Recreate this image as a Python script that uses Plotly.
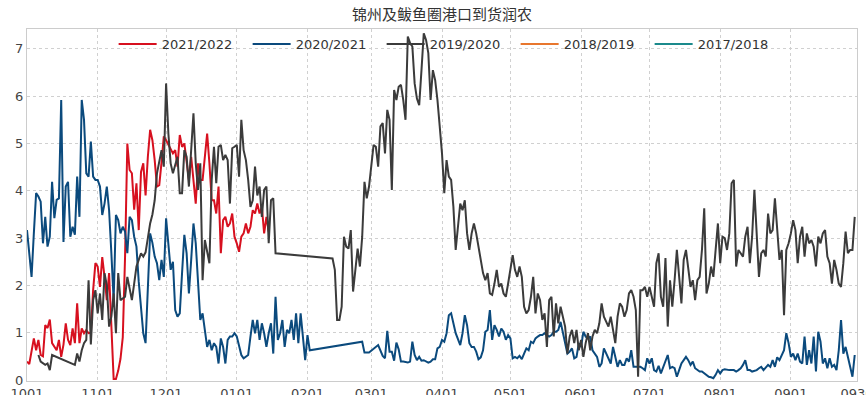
import pandas as pd
import plotly.graph_objects as go

# x positions are days counted from 1 October of each season
season_labels = ["2021/2022", "2020/2021", "2019/2020", "2018/2019", "2017/2018"]
season_colors = ["#d7101f", "#0b4a7d", "#3b3b3b", "#e8772e", "#1b8a8c"]

days_2122 = [0, 1, 3, 4, 5, 6, 7, 8, 9, 10, 11, 12, 13, 14, 15, 16, 17, 18, 19, 20,
             21, 22, 23, 24, 25, 26, 27, 28, 29, 30, 31, 32, 33, 34, 35, 36, 37, 38, 39, 40,
             41, 42, 43, 44, 45, 46, 47, 48, 49, 50, 51, 52, 53, 54, 55, 56, 57, 58, 59, 60,
             61, 63, 64, 65, 66, 67, 68, 69, 70, 71, 72, 73, 74, 75, 76, 77, 78, 79, 80, 81,
             82, 83, 84, 85, 86, 87, 88, 89, 90, 91, 92, 93, 94, 95, 96, 97, 98, 99, 100, 101,
             102, 103, 104, 105, 106]
vals_2122 = [0.39, 0.34, 0.88, 0.63, 0.85, 0.53, 0.50, 1.16, 1.10, 1.28, 0.78, 0.70, 0.63, 0.85, 0.49, 0.75, 1.20, 0.85, 0.74, 1.09,
             0.78, 1.62, 0.78, 1.09, 0.99, 1.06, 0.99, 1.00, 1.90, 2.47, 2.40, 1.97, 2.60, 2.18, 1.69, 2.26, 0.99, 0.02, 0.02, 0.20,
             0.45, 0.90, 2.60, 5.00, 4.44, 4.37, 3.60, 4.16, 3.17, 4.40, 4.58, 3.90, 4.72, 5.29, 5.07, 4.65, 4.09, 4.12, 4.60, 5.15,
             5.07, 4.86, 4.79, 4.86, 4.51, 5.18, 4.93, 5.00, 4.58, 4.23, 4.72, 4.23, 3.73, 4.58, 4.23, 4.23, 4.72, 5.21, 4.58, 3.80,
             3.80, 3.52, 4.09, 2.68, 3.38, 3.45, 3.24, 3.31, 3.52, 3.03, 2.89, 2.71, 3.03, 3.10, 3.31, 3.10, 3.24, 3.59, 3.52, 3.73,
             3.52, 3.66, 3.10, 3.45, 3.14]

days_2021 = [0, 2, 3, 4, 5, 6, 7, 8, 9, 10, 11, 12, 13, 14, 15, 16, 17, 18, 19, 20,
             21, 22, 23, 24, 25, 26, 27, 28, 29, 30, 31, 32, 33, 34, 35, 36, 37, 38, 39, 40,
             41, 42, 43, 44, 45, 46, 47, 48, 49, 50, 51, 52, 53, 54, 55, 56, 57, 58, 59, 60,
             61, 62, 63, 64, 65, 66, 67, 68, 69, 70, 71, 72, 73, 74, 75, 76, 77, 78, 79, 80,
             81, 82, 83, 84, 85, 86, 87, 88, 89, 90, 91, 92, 93, 94, 95, 96, 97, 98, 99, 100,
             101, 102, 103, 104, 105, 106, 107, 108, 109, 110, 111, 112, 113, 114, 115, 116, 117, 118, 119, 120,
             121, 122, 123, 124, 147, 148, 150, 152, 154, 156, 157, 158, 159, 160, 161, 162, 163, 164, 165, 167,
             168, 169, 170, 171, 172, 173, 174, 176, 177, 178, 179, 180, 181, 182, 183, 184, 185, 186, 187, 188,
             190, 191, 192, 193, 194, 195, 196, 197, 198, 199, 200, 201, 202, 203, 204, 205, 206, 207, 208, 209,
             210, 211, 212, 213, 214, 215, 216, 217, 218, 219, 220, 221, 222, 223, 224, 225, 226, 227, 228, 229,
             230, 231, 232, 233, 234, 235, 236, 237, 238, 239, 240, 241, 242, 243, 244, 245, 246, 247, 248, 249,
             250, 251, 252, 253, 254, 255, 256, 257, 258, 259, 260, 261, 262, 263, 264, 265, 266, 267, 268, 269,
             270, 271, 272, 273, 274, 275, 276, 277, 278, 279, 281, 282, 283, 284, 285, 286, 287, 289, 290, 291,
             292, 293, 295, 296, 297, 298, 299, 300, 301, 302, 303, 304, 305, 306, 308, 310, 311, 312, 313, 314,
             315, 316, 317, 318, 320, 321, 322, 323, 325, 326, 327, 328, 329, 330, 331, 332, 333, 334, 335, 336,
             337, 338, 339, 340, 341, 342, 343, 344, 345, 346, 347, 348, 349, 350, 351, 352, 353, 354, 355, 356,
             357, 358, 359, 360, 361, 362, 363]
vals_2021 = [3.17, 2.18, 3.10, 3.95, 3.88, 3.77, 2.89, 3.45, 2.82, 3.03, 4.19, 3.42, 3.81, 3.84, 5.92, 2.92, 4.09, 4.19, 3.03, 3.24,
             3.07, 4.30, 3.45, 5.92, 5.50, 4.37, 4.30, 5.04, 4.30, 4.23, 4.23, 4.09, 3.49, 3.73, 4.09, 3.59, 2.68, 1.69, 3.49, 3.38,
             3.10, 3.24, 3.14, 2.68, 3.45, 3.38, 3.03, 2.82, 2.08, 1.48, 0.99, 0.78, 1.90, 3.10, 2.90, 2.61, 2.47, 2.11, 2.54, 2.18,
             3.42, 2.82, 2.33, 2.50, 1.48, 1.34, 1.41, 2.26, 3.07, 2.68, 1.83, 2.54, 3.31, 2.89, 2.11, 1.27, 1.41, 0.99, 0.70, 0.85,
             0.63, 0.78, 0.70, 0.35, 0.88, 0.70, 0.35, 0.85, 0.92, 0.92, 0.99, 0.92, 0.70, 0.53, 0.46, 0.49, 0.53, 0.92, 1.27, 0.99,
             1.27, 0.85, 1.20, 0.99, 0.70, 0.99, 1.20, 0.56, 1.76, 0.85, 0.99, 1.27, 0.70, 1.06, 0.99, 1.27, 0.85, 1.41, 0.78, 1.41,
             0.85, 0.42, 0.95, 0.63, 0.81, 0.58, 0.58, 0.67, 0.74, 0.51, 0.46, 1.04, 0.60, 0.60, 0.41, 0.79, 0.65, 0.39, 0.39, 0.37,
             0.39, 0.81, 0.53, 0.42, 0.49, 0.41, 0.42, 0.37, 0.39, 0.44, 0.44, 0.67, 0.70, 0.85, 0.81, 0.99, 1.37, 1.41, 1.23, 0.99,
             0.74, 0.99, 1.37, 1.16, 0.78, 0.70, 0.70, 0.60, 0.44, 0.48, 0.63, 1.02, 1.06, 1.48, 0.85, 1.16, 1.06, 0.92, 1.09, 1.02,
             0.85, 0.95, 0.88, 0.46, 0.49, 0.46, 0.51, 0.44, 0.56, 0.67, 0.63, 0.81, 0.78, 0.88, 0.92, 0.95, 0.95, 0.99, 0.95, 0.92,
             0.95, 1.02, 1.02, 1.06, 1.23, 1.02, 0.78, 0.56, 0.60, 0.67, 0.46, 0.49, 0.78, 0.70, 1.02, 0.92, 0.88, 0.92, 0.63, 0.56,
             0.49, 0.28, 0.35, 0.67, 0.56, 0.46, 0.35, 0.70, 0.49, 0.28, 0.42, 0.32, 0.32, 0.46, 0.39, 0.63, 0.28, 0.28, 0.28, 0.28,
             0.25, 0.21, 0.46, 0.35, 0.46, 0.21, 0.18, 0.30, 0.14, 0.28, 0.53, 0.25, 0.28, 0.25, 0.07, 0.21, 0.35, 0.49, 0.42, 0.32,
             0.39, 0.25, 0.18, 0.18, 0.14, 0.11, 0.07, 0.06, 0.04, 0.11, 0.21, 0.14, 0.21, 0.23, 0.21, 0.21, 0.18, 0.21, 0.25, 0.32,
             0.42, 0.21, 0.21, 0.18, 0.21, 0.25, 0.28, 0.21, 0.32, 0.28, 0.42, 0.28, 0.48, 0.42, 0.53, 0.63, 0.99, 0.78, 0.49, 0.56,
             0.42, 0.56, 0.39, 0.35, 0.92, 0.32, 0.63, 0.35, 0.92, 0.18, 1.02, 0.81, 0.35, 0.46, 0.25, 0.46, 0.28, 0.32, 0.21, 0.63,
             1.27, 0.56, 0.70, 0.46, 0.28, 0.07, 0.53]

days_1920 = [5, 6, 8, 9, 10, 11, 21, 22, 23, 24, 25, 26, 27, 28, 29, 30, 31, 32, 33, 34,
             35, 36, 37, 38, 39, 40, 41, 43, 44, 45, 46, 47, 48, 49, 50, 51, 52, 53, 54, 55,
             56, 57, 58, 59, 60, 61, 62, 63, 64, 65, 66, 67, 68, 69, 70, 71, 72, 73, 74, 75,
             76, 77, 78, 79, 80, 81, 82, 83, 84, 85, 86, 87, 88, 89, 90, 91, 92, 93, 94, 95,
             96, 97, 98, 99, 100, 101, 102, 103, 104, 105, 106, 107, 108, 109, 134, 135, 136, 137, 138, 139,
             140, 141, 142, 143, 144, 145, 146, 147, 148, 149, 150, 151, 152, 153, 154, 155, 156, 157, 158, 159,
             160, 161, 162, 163, 164, 165, 166, 167, 168, 169, 170, 171, 172, 173, 174, 175, 176, 177, 178, 179,
             180, 181, 182, 183, 184, 185, 186, 187, 188, 189, 190, 191, 192, 193, 194, 195, 196, 197, 198, 199,
             200, 201, 202, 203, 204, 205, 206, 207, 208, 209, 210, 211, 213, 214, 215, 216, 217, 218, 219, 220,
             221, 222, 223, 224, 225, 226, 227, 228, 229, 230, 231, 232, 233, 234, 235, 236, 237, 238, 239, 240,
             241, 242, 243, 244, 245, 246, 247, 248, 249, 250, 251, 252, 253, 255, 256, 257, 258, 259, 260, 261,
             262, 263, 264, 265, 266, 267, 268, 269, 270, 271, 272, 273, 275, 276, 277, 278, 279, 280, 281, 282,
             283, 284, 285, 287, 288, 289, 290, 291, 292, 293, 294, 295, 296, 297, 298, 299, 300, 301, 302, 303,
             304, 305, 306, 307, 308, 309, 310, 311, 312, 313, 314, 315, 316, 317, 318, 319, 320, 321, 322, 323,
             324, 325, 326, 327, 328, 329, 330, 331, 332, 333, 334, 335, 336, 337, 338, 339, 340, 341, 342, 343,
             344, 345, 346, 347, 348, 349, 350, 351, 352, 353, 354, 355, 356, 357, 358, 359, 360, 361, 362, 363]
vals_1920 = [0.53, 0.39, 0.32, 0.35, 0.21, 0.53, 0.32, 0.56, 0.39, 0.63, 0.78, 0.85, 2.11, 0.75, 1.69, 1.90, 1.41, 1.83, 1.27, 2.26,
             2.00, 1.13, 1.34, 1.83, 0.99, 2.26, 1.69, 1.76, 2.18, 1.90, 1.69, 2.04, 2.40, 2.54, 2.68, 2.61, 2.70, 3.00, 3.31, 3.50,
             3.80, 4.37, 4.65, 4.86, 4.51, 6.27, 5.21, 4.58, 4.37, 4.58, 4.72, 3.95, 3.95, 4.86, 4.72, 4.09, 4.79, 5.64, 4.58, 4.02,
             4.58, 2.11, 2.96, 2.68, 2.47, 4.23, 4.93, 4.16, 4.93, 4.97, 4.65, 4.76, 4.65, 3.73, 4.90, 4.93, 4.97, 4.30, 5.50, 4.86,
             4.65, 4.23, 3.66, 3.80, 4.51, 3.90, 4.09, 3.45, 4.02, 4.09, 2.89, 3.80, 3.84, 2.68, 2.57, 2.33, 1.27, 1.27, 1.55, 3.03,
             2.82, 2.78, 3.17, 1.87, 2.40, 2.78, 2.40, 3.03, 4.19, 3.84, 4.09, 4.51, 4.97, 4.93, 4.51, 5.36, 5.43, 4.79, 5.71, 5.50,
             4.02, 6.13, 5.92, 6.20, 6.24, 5.92, 5.50, 7.26, 7.12, 7.05, 6.27, 5.95, 5.81, 6.55, 7.33, 7.19, 6.91, 5.92, 6.55, 6.34,
             5.92, 5.36, 4.79, 3.95, 4.65, 4.30, 4.23, 3.66, 2.75, 3.24, 3.73, 3.59, 3.80, 3.10, 2.75, 3.10, 3.31, 3.10, 2.82, 2.61,
             2.26, 2.11, 2.26, 1.83, 1.80, 2.04, 2.33, 1.97, 2.04, 1.83, 1.76, 2.04, 2.64, 2.33, 2.18, 2.40, 2.18, 1.55, 1.41, 1.48,
             1.76, 2.18, 1.41, 1.83, 1.69, 1.27, 1.41, 0.70, 1.69, 1.76, 0.92, 1.62, 1.20, 1.55, 1.34, 1.13, 0.56, 0.92, 1.06, 0.78,
             1.06, 0.63, 0.85, 0.49, 0.78, 0.99, 0.63, 0.92, 1.06, 0.99, 1.20, 1.62, 1.34, 1.13, 1.34, 1.06, 0.78, 1.34, 1.62, 1.55,
             1.34, 1.48, 1.83, 1.90, 1.76, 1.48, 0.07, 1.90, 1.90, 1.97, 1.76, 1.97, 1.55, 2.47, 2.68, 1.76, 1.55, 2.58, 1.13, 2.11,
             1.55, 2.11, 2.75, 1.62, 2.54, 2.75, 2.33, 1.97, 2.11, 1.69, 2.11, 2.18, 2.75, 3.63, 1.83, 2.04, 2.40, 2.18, 2.75, 3.31,
             2.47, 3.03, 3.00, 2.75, 3.10, 4.16, 4.23, 2.40, 2.75, 2.68, 2.61, 3.03, 3.24, 2.47, 3.03, 4.02, 3.03, 2.18, 2.68, 2.75,
             2.61, 3.52, 3.10, 3.17, 3.84, 3.10, 2.54, 2.75, 1.37, 2.75, 2.89, 3.10, 3.38, 3.17, 2.47, 3.03, 3.24, 2.61, 3.10, 2.89,
             2.96, 2.82, 2.40, 3.03, 2.89, 3.10, 3.17, 2.61, 2.47, 2.04, 2.54, 2.33, 2.04, 1.97, 2.47, 3.14, 2.68, 2.75, 2.75, 3.45]

# seasons with no readings in this window
days_1819, vals_1819 = [], []
days_1718, vals_1718 = [], []

tick_labels = ["1001", "1101", "1201", "0101", "0201", "0301", "0401",
               "0501", "0601", "0701", "0801", "0901", "0930"]
y_ticks = [0, 1, 2, 3, 4, 5, 6, 7]

# place each MMDD tick on the season day axis (season starts 1 October)
season_start = pd.Timestamp("2001-10-01")


def season_day(mmdd):
    month, day = int(mmdd[:2]), int(mmdd[2:])
    year = 2001 if month >= 10 else 2002
    return (pd.Timestamp(year=year, month=month, day=day) - season_start).days


tick_pos = [season_day(t) for t in tick_labels]

series = [
    (days_2122, vals_2122),
    (days_2021, vals_2021),
    (days_1920, vals_1920),
    (days_1819, vals_1819),
    (days_1718, vals_1718),
]

fig = go.Figure()
for (xs, ys), name, color in zip(series, season_labels, season_colors):
    # an empty season still keeps its legend entry via a single gap point
    xs = xs if xs else [None]
    ys = ys if ys else [None]
    fig.add_trace(go.Scatter(x=xs, y=ys, mode="lines", name=name, showlegend=True,
                             line=dict(color=color, width=2)))

num_font = dict(family="DejaVu Sans", size=13, color="#444444")
fig.update_layout(
    width=866, height=395,
    margin=dict(l=27, r=9, t=29, b=14, autoexpand=False),
    paper_bgcolor="white", plot_bgcolor="white",
    title=dict(text="锦州及鲅鱼圈港口到货润农", x=0.5, xref="paper",
               y=1 - 15 / 395, yref="container", yanchor="middle",
               font=dict(family="Noto Sans CJK SC", size=15, color="#333333")),
    legend=dict(orientation="h", x=0.508, xanchor="center", y=0.957, yanchor="middle",
                itemwidth=38, entrywidth=81, entrywidthmode="pixels",
                bgcolor="rgba(0,0,0,0)", font=dict(family="DejaVu Sans", size=13, color="#333333")),
    showlegend=True,
)
fig.update_xaxes(range=[0, tick_pos[-1]], tickmode="array", tickvals=tick_pos, ticktext=tick_labels,
                 showgrid=True, gridcolor="#d0d0d0", griddash="3px,3px", gridwidth=1,
                 showline=True, linecolor="#cccccc", linewidth=1, mirror=True, automargin=False,
                 ticklabeloverflow="allow",
                 zeroline=False, ticks="", tickfont=num_font)
fig.update_yaxes(range=[-0.02, 7.42], tickmode="array", tickvals=y_ticks,
                 showgrid=True, gridcolor="#d0d0d0", griddash="3px,3px", gridwidth=1,
                 showline=True, linecolor="#cccccc", linewidth=1, mirror=True, automargin=False,
                 zeroline=False, ticks="", tickfont=num_font)

fig.write_html("out.html")
